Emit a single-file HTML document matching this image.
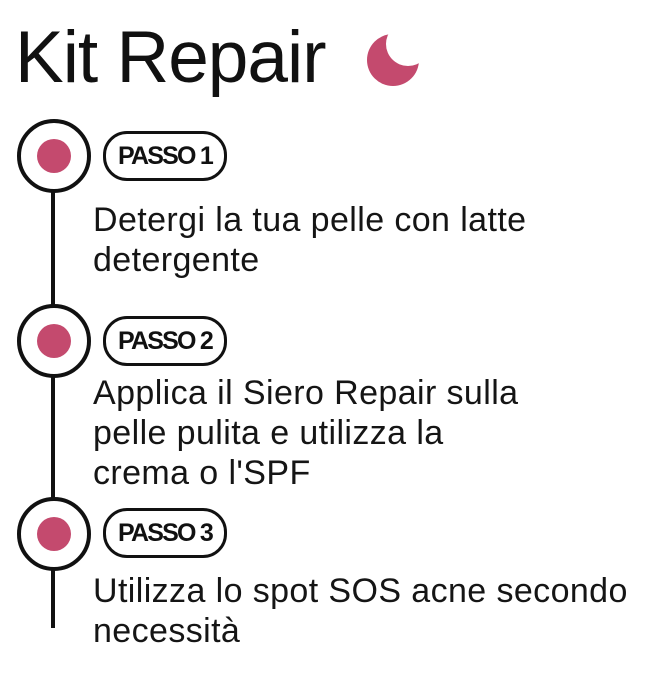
<!DOCTYPE html>
<html><head><style>
body{margin:0;width:650px;height:700px;background:#fff;position:relative;overflow:hidden;font-family:"Liberation Sans",sans-serif;color:#111}
.a{position:absolute}
.title{left:15px;top:16px;font-size:73px;line-height:84px;letter-spacing:-1px}
.c{width:66px;height:66px;border:4px solid #111;border-radius:50%;background:#fff;box-sizing:content-box}
.c i{position:absolute;left:16px;top:16px;width:34px;height:34px;border-radius:50%;background:#c44a6e}
.pill{height:44px;width:118px;border:3px solid #111;border-radius:24px;font-weight:bold;font-size:25px;line-height:44px;text-align:center;letter-spacing:-1.8px;background:#fff;white-space:nowrap}
.t{left:93px;font-size:34px;line-height:40px;letter-spacing:0.4px;color:#151515;white-space:nowrap}
</style></head><body>
<div class="a title">Kit Repair</div>
<svg class="a" style="left:366px;top:30px" width="56" height="58" viewBox="0 0 56 58">
<defs><mask id="m"><rect width="56" height="58" fill="#fff"/><circle cx="42" cy="14" r="22" fill="#000"/></mask></defs>
<circle cx="27" cy="30" r="26" fill="#c44a6e" mask="url(#m)"/></svg>
<div class="a" style="left:51px;top:150px;width:4px;height:478px;background:#111"></div>
<div class="a c" style="left:17px;top:119px"><i></i></div>
<div class="a c" style="left:17px;top:304px"><i></i></div>
<div class="a c" style="left:17px;top:497px"><i></i></div>
<div class="a pill" style="left:103px;top:131px">PASSO 1</div>
<div class="a pill" style="left:103px;top:316px">PASSO 2</div>
<div class="a pill" style="left:103px;top:508px">PASSO 3</div>
<div class="a t" style="top:200px">Detergi la tua pelle con latte<br>detergente</div>
<div class="a t" style="top:373px">Applica il Siero Repair sulla<br>pelle pulita e utilizza la<br>crema o l'SPF</div>
<div class="a t" style="top:571px">Utilizza lo spot SOS acne secondo<br>necessità</div>
</body></html>
